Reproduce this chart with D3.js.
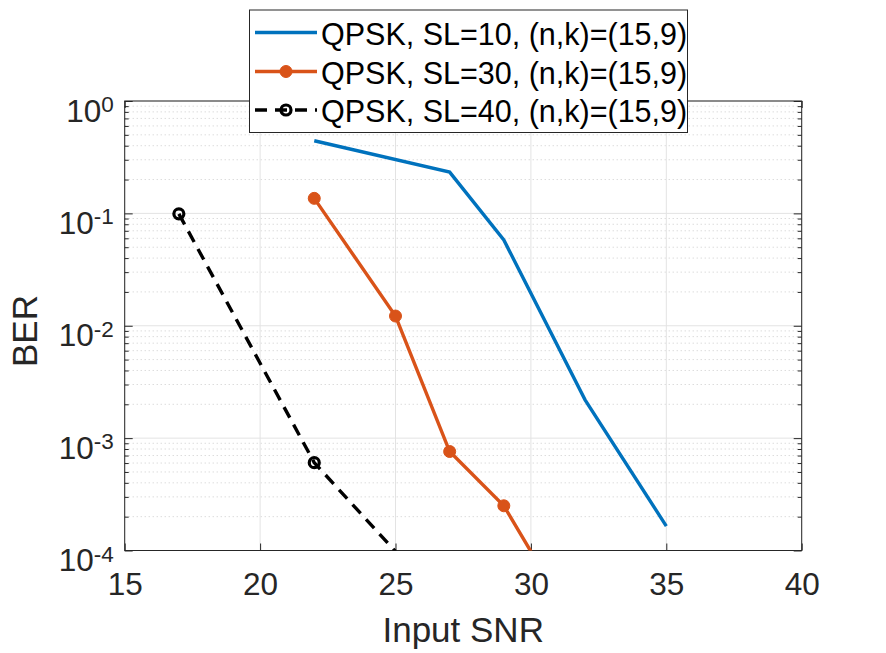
<!DOCTYPE html>
<html>
<head>
<meta charset="utf-8">
<script src="https://cdn.jsdelivr.net/npm/d3@7"></script>
<style>
  html, body { margin: 0; padding: 0; background: #fff; }
  svg { display: block; font-family: "Liberation Sans", Arial, Helvetica, sans-serif; }
</style>
</head>
<body>
<div id="chart"></div>
<script>
// BER vs input SNR, log y axis (MATLAB style figure)
const xTicks = [15, 20, 25, 30, 35, 40];
const yTicks = [1, 1e-1, 1e-2, 1e-3, 1e-4];
const yExps = ["0", "-1", "-2", "-3", "-4"];

const snrSL10 = [22, 27, 29, 32, 35];
const berSL10 = [0.443, 0.233, 0.058, 0.00219, 1.65e-4];

const snrSL30 = [22, 25, 27, 29, 30];
const berSL30 = [0.136, 0.0122, 7.6e-4, 2.5e-4, 9.8e-5];

const snrSL40 = [17, 22, 25];
const berSL40 = [0.099, 6.05e-4, 9.8e-5];

const seriesNames = [
    "QPSK, SL=10, (n,k)=(15,9)",
    "QPSK, SL=30, (n,k)=(15,9)",
    "QPSK, SL=40, (n,k)=(15,9)"
];

const W = 886, H = 653;
const plotL = 124.7, plotR = 801.7, plotT = 101, plotB = 550.5;
const axisColor = "#262626";

const svg = d3.select("#chart").append("svg")
    .attr("width", W)
    .attr("height", H);

const x = d3.scaleLinear().domain([15, 40]).range([plotL, plotR]);
const y = d3.scaleLog().domain([1e-4, 1]).range([plotB, plotT]);

// minor values for the log axis (2..9 per decade)
const yMinor = [];
[1e-4, 1e-3, 1e-2, 1e-1].forEach(d => {
    for (let m = 2; m <= 9; m++) yMinor.push(d * m);
});

// grid
const grid = svg.append("g");
grid.selectAll("line.minor")
    .data(yMinor)
    .join("line")
    .attr("x1", plotL).attr("x2", plotR)
    .attr("y1", d => y(d)).attr("y2", d => y(d))
    .style("stroke", "#cccccc")
    .style("stroke-width", 1)
    .style("stroke-dasharray", "1,3");
grid.append("g").selectAll("line")
    .data(xTicks)
    .join("line")
    .attr("x1", d => x(d)).attr("x2", d => x(d))
    .attr("y1", plotT).attr("y2", plotB)
    .style("stroke", "#e3e3e3")
    .style("stroke-width", 1);
grid.append("g").selectAll("line")
    .data(yTicks)
    .join("line")
    .attr("x1", plotL).attr("x2", plotR)
    .attr("y1", d => y(d)).attr("y2", d => y(d))
    .style("stroke", "#e3e3e3")
    .style("stroke-width", 1);

// axes (ticks pointing inward)
const xAxis = svg.append("g")
    .attr("transform", `translate(0,${plotB})`)
    .call(d3.axisBottom(x).tickValues(xTicks).tickSizeInner(-7).tickSizeOuter(0).tickPadding(22.5));
svg.append("g")
    .attr("transform", `translate(0,${plotT})`)
    .call(d3.axisTop(x).tickValues(xTicks).tickSizeInner(-7).tickSizeOuter(0).tickFormat(""));

const yAxis = svg.append("g")
    .attr("transform", `translate(${plotL},0)`)
    .call(d3.axisLeft(y).tickValues(yTicks).tickSizeInner(-8).tickSizeOuter(0).tickFormat(""));
svg.append("g")
    .attr("transform", `translate(${plotL},0)`)
    .call(d3.axisLeft(y).tickValues(yMinor).tickSizeInner(-4).tickSizeOuter(0).tickFormat(""));
svg.append("g")
    .attr("transform", `translate(${plotR},0)`)
    .call(d3.axisRight(y).tickValues(yTicks).tickSizeInner(-8).tickSizeOuter(0).tickFormat(""));
svg.append("g")
    .attr("transform", `translate(${plotR},0)`)
    .call(d3.axisRight(y).tickValues(yMinor).tickSizeInner(-4).tickSizeOuter(0).tickFormat(""));

svg.selectAll(".domain").remove();
svg.selectAll(".tick line").style("stroke", axisColor).style("stroke-width", 1);

xAxis.selectAll("text")
    .style("font-size", "31.5px")
    .style("fill", axisColor)
    .style("font-family", "'Liberation Sans', Arial, sans-serif");

// y labels as 10^n with superscripts
yAxis.selectAll(".tick text")
    .attr("x", -11)
    .attr("dy", null)
    .attr("y", 20)
    .attr("text-anchor", "end")
    .style("fill", axisColor)
    .style("font-family", "'Liberation Sans', Arial, sans-serif")
    .each(function(d, i) {
        const t = d3.select(this);
        t.append("tspan").style("font-size", "31.5px").text("10");
        t.append("tspan").style("font-size", "22.5px").attr("dy", -9.5).text(yExps[i]);
    });

// box
svg.append("rect")
    .attr("x", plotL).attr("y", plotT)
    .attr("width", plotR - plotL).attr("height", plotB - plotT)
    .style("fill", "none")
    .style("stroke", axisColor)
    .style("stroke-width", 1);

// axis labels
svg.append("text")
    .attr("x", (plotL + plotR) / 2)
    .attr("y", 641.5)
    .attr("text-anchor", "middle")
    .style("font-size", "35px")
    .style("fill", axisColor)
    .text("Input SNR");

svg.append("text")
    .attr("transform", "translate(37,331) rotate(-90)")
    .attr("text-anchor", "middle")
    .style("font-size", "35px")
    .style("fill", axisColor)
    .text("BER");

// data
svg.append("clipPath").attr("id", "plotClip")
    .append("rect")
    .attr("x", plotL).attr("y", plotT)
    .attr("width", plotR - plotL).attr("height", plotB - plotT);

const series = [
    { xs: snrSL10, ys: berSL10, color: "#0072BD", dash: null, marker: null },
    { xs: snrSL30, ys: berSL30, color: "#D95319", dash: null, marker: "filled" },
    { xs: snrSL40, ys: berSL40, color: "#000000", dash: "12,8", marker: "open" }
];

const line = d3.line().x(d => x(d[0])).y(d => y(d[1]));
const plot = svg.append("g").attr("clip-path", "url(#plotClip)");

series.forEach(s => {
    const pts = s.xs.map((v, i) => [v, s.ys[i]]);
    plot.append("path")
        .datum(pts)
        .attr("d", line)
        .style("fill", "none")
        .style("stroke", s.color)
        .style("stroke-width", 3.4)
        .style("stroke-dasharray", s.dash);
    if (s.marker) {
        plot.append("g").selectAll("circle")
            .data(pts.filter(p => p[1] >= 1e-4))
            .join("circle")
            .attr("cx", d => x(d[0]))
            .attr("cy", d => y(d[1]))
            .attr("r", s.marker === "filled" ? 6 : 5)
            .style("fill", s.marker === "filled" ? s.color : "none")
            .style("stroke", s.color)
            .style("stroke-width", s.marker === "filled" ? 1 : 3.2);
    }
});

// legend
const lg = svg.append("g");
lg.append("rect")
    .attr("x", 249.5).attr("y", 10)
    .attr("width", 438).attr("height", 122.5)
    .style("fill", "#fff")
    .style("stroke", axisColor)
    .style("stroke-width", 1);

const rowY = [32.5, 71.5, 110];
series.forEach((s, i) => {
    lg.append("line")
        .attr("x1", 255).attr("x2", 317)
        .attr("y1", rowY[i]).attr("y2", rowY[i])
        .style("stroke", s.color)
        .style("stroke-width", 3.4)
        .style("stroke-dasharray", s.dash);
    if (s.marker) {
        lg.append("circle")
            .attr("cx", 286).attr("cy", rowY[i])
            .attr("r", s.marker === "filled" ? 6 : 5)
            .style("fill", s.marker === "filled" ? s.color : "none")
            .style("stroke", s.color)
            .style("stroke-width", s.marker === "filled" ? 1 : 3.2);
    }
    lg.append("text")
        .attr("x", 321)
        .attr("y", rowY[i] + 12)
        .style("font-size", "30.5px")
        .style("fill", "#000")
        .text(seriesNames[i]);
});
</script>
</body>
</html>
